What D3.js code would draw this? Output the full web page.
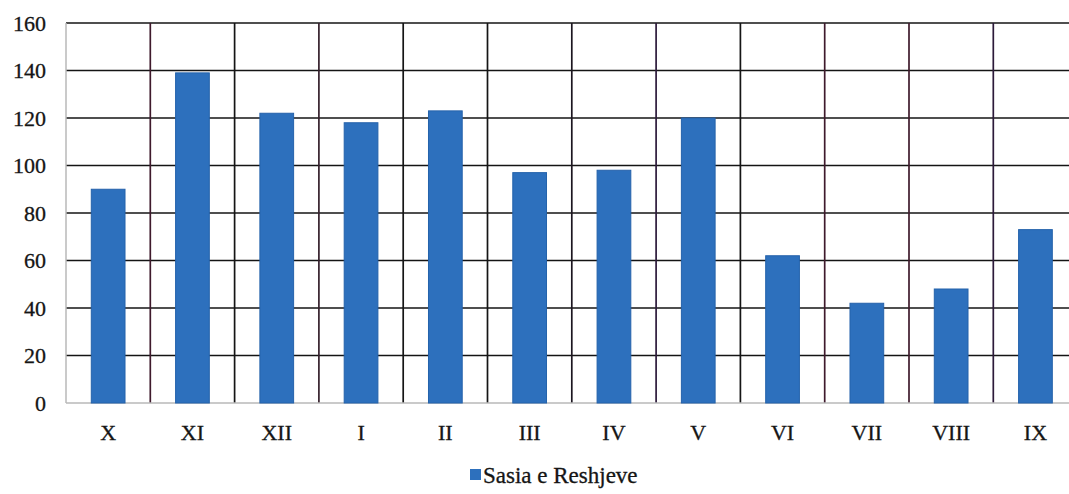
<!DOCTYPE html>
<html>
<head>
<meta charset="utf-8">
<script src="https://cdn.jsdelivr.net/npm/d3@7"></script>
<style>
  body { margin: 0; background: #fff; }
</style>
</head>
<body>
<script>
// months (hydrological year, Oct -> Sep)
let months = ['X', 'XI', 'XII', 'I', 'II', 'III', 'IV', 'V', 'VI', 'VII', 'VIII', 'IX']
let rain = [90, 139, 122, 118, 123, 97, 98, 120, 62, 42, 48, 73]
let yTicks = [0, 20, 40, 60, 80, 100, 120, 140, 160]
let seriesName = 'Sasia e Reshjeve'

let width = 1069
let height = 494
let plotLeft = 66, plotTop = 23, plotBottom = 403
let bandW = 84.3
let plotRight = plotLeft + bandW * months.length   // runs past the window, like the scan
let serif = "'Liberation Serif', 'Times New Roman', Tinos, 'DejaVu Serif', serif"
// scanned gridlines have a slight tint on some of them
let vLineColors = ['#3f1a2c', '#151515', '#35202c', '#151515', '#151515', '#1c1620',
                   '#2c1a3a', '#151515', '#3f1a2c', '#3f1a2c', '#2c1a3a']

let svg = d3.select('body').append('svg')
    .attr('width', width)
    .attr('height', height)
    .style('font-family', serif)

let x = d3.scaleBand()
    .domain(months)
    .range([plotLeft, plotRight])
    .paddingInner(0.6)
    .paddingOuter(0.3)

let y = d3.scaleLinear()
    .domain([0, 160])
    .range([plotBottom, plotTop])

// horizontal gridlines
svg.append('g')
    .selectAll('line')
    .data(yTicks.filter(d => d > 0))
    .enter()
    .append('line')
    .attr('x1', plotLeft)
    .attr('x2', plotRight)
    .attr('y1', d => y(d))
    .attr('y2', d => y(d))
    .attr('stroke', '#141414')
    .attr('stroke-width', 1.7)

// vertical gridlines between categories
svg.append('g')
    .selectAll('line')
    .data(months.slice(1))
    .enter()
    .append('line')
    .attr('x1', d => x(d) - x.step() * 0.3)
    .attr('x2', d => x(d) - x.step() * 0.3)
    .attr('y1', plotTop)
    .attr('y2', plotBottom)
    .attr('stroke', (d, i) => vLineColors[i])
    .attr('stroke-width', 1.7)

// light axis lines
svg.append('line')
    .attr('x1', plotLeft).attr('x2', plotLeft)
    .attr('y1', plotTop).attr('y2', plotBottom)
    .attr('stroke', '#b8b8b8').attr('stroke-width', 1.5)
svg.append('line')
    .attr('x1', plotLeft).attr('x2', plotRight)
    .attr('y1', plotBottom).attr('y2', plotBottom)
    .attr('stroke', '#b8b8b8').attr('stroke-width', 1.5)

// bars
svg.append('g')
    .selectAll('rect')
    .data(rain)
    .enter()
    .append('rect')
    .attr('x', (d, i) => x(months[i]))
    .attr('width', x.bandwidth())
    .attr('y', d => y(d))
    .attr('height', d => plotBottom - y(d))
    .attr('fill', '#2d70bd')
    .attr('stroke', '#2462ab')
    .attr('stroke-width', 1)

// y tick labels
svg.append('g')
    .selectAll('text')
    .data(yTicks)
    .enter()
    .append('text')
    .attr('x', 46)
    .attr('y', d => y(d))
    .attr('dy', '0.35em')
    .attr('text-anchor', 'end')
    .attr('font-family', serif)
    .attr('font-size', 22)
    .attr('fill', '#151515')
    .attr('stroke', '#151515')
    .attr('stroke-width', 0.3)
    .text(d => d)

// x tick labels
svg.append('g')
    .selectAll('text')
    .data(months)
    .enter()
    .append('text')
    .attr('x', d => x(d) + x.bandwidth() / 2)
    .attr('y', 440)
    .attr('text-anchor', 'middle')
    .attr('font-family', serif)
    .attr('font-size', 22)
    .attr('fill', '#151515')
    .attr('stroke', '#151515')
    .attr('stroke-width', 0.3)
    .text(d => d)

// legend
let legend = svg.append('g').attr('transform', 'translate(470,483)')
legend.append('rect')
    .attr('x', 0).attr('y', -14)
    .attr('width', 11).attr('height', 11)
    .attr('fill', '#2d70bd')
legend.append('text')
    .attr('x', 13)
    .attr('y', 0)
    .attr('font-family', serif)
    .attr('font-size', 23)
    .attr('fill', '#151515')
    .attr('stroke', '#151515')
    .attr('stroke-width', 0.3)
    .text(seriesName)
</script>
</body>
</html>
